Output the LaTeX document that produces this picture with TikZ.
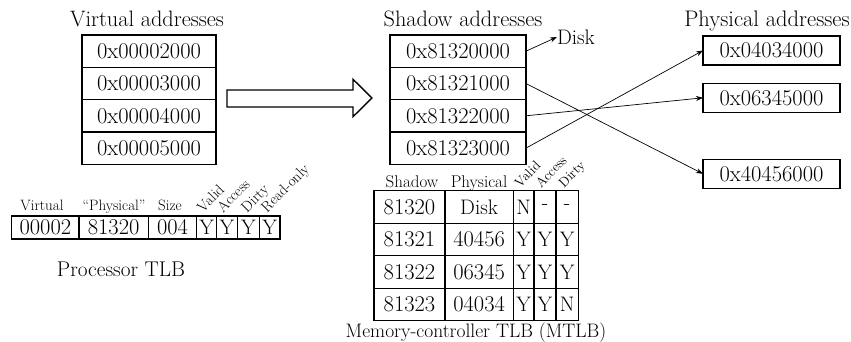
\documentclass[tikz,border=0pt]{standalone}
\usetikzlibrary{arrows.meta}
\begin{document}
\begin{tikzpicture}[x=1pt,y=-1pt,
  every node/.style={inner sep=0pt, outer sep=0pt},
  fs/.style={font=\fontsize{#1}{#1}\selectfont},
  numfont/.style={fs=22.5},
  addr/.style={draw, line width=1.4pt, numfont, minimum width=134pt, minimum height=32.3pt},
  phys/.style={addr, minimum width=137pt, minimum height=29pt},
  tcell/.style={draw, line width=1.4pt, numfont, minimum height=23pt},
  mcell/.style={draw, line width=1.4pt, numfont, minimum height=32.5pt},
  flag/.style={fs=15, rotate=45, anchor=base west},
  mflag/.style={fs=13.5, rotate=45, anchor=base west},
  link/.style={line width=0.7pt, -{Stealth[length=7pt,width=5pt]}}
]
\useasboundingbox (0,0) rectangle (851,342);

% column titles
\node[fs=22.3, anchor=base] (tv) at (147,26.7) {Virtual addresses};
\node[fs=22.3, anchor=base] (ts) at (463,26.7) {Shadow addresses};
\node[fs=22.5, anchor=base] (tp) at (767,26.7) {Physical addresses};

% virtual pages
\node[addr] (v1) at (149,51.2)  {0x00002000};
\node[addr] (v2) at (149,83.5)  {0x00003000};
\node[addr] (v3) at (149,115.8) {0x00004000};
\node[addr] (v4) at (149,148.1) {0x00005000};

% shadow pages
\node[addr, minimum width=136pt] (s1) at (458,51.2)  {0x81320000};
\node[addr, minimum width=136pt] (s2) at (458,83.5)  {0x81321000};
\node[addr, minimum width=136pt] (s3) at (458,115.8) {0x81322000};
\node[addr, minimum width=136pt] (s4) at (458,148.1) {0x81323000};

% physical pages
\node[phys] (p1) at (771.5,50.5)  {0x04034000};
\node[phys] (p2) at (771.5,97.8)  {0x06345000};
\node[phys] (p3) at (771.5,173.8) {0x40456000};

\node[fs=21, anchor=west] (disk) at (557,37) {Disk};

% hollow block arrow between the two address spaces
\draw[line width=1.4pt, line join=miter]
  (227,90) -- (353,90) -- (353,79.3) -- (372,98) -- (353,116.7)
  -- (353,107) -- (227,107) -- cycle;

% shadow-to-physical mappings
\draw[link] (s1.east) -- (disk.west);
\draw[link] (s2.east) -- (p3.west);
\draw[link] (s3.east) -- (p2.west);
\draw[link] (s4.east) -- (p1.west);

% processor TLB
\node[fs=15, anchor=base] (hv) at (42,210) {Virtual};
\node[fs=15, anchor=base] (hp) at (114,210) {``Physical''};
\node[fs=15, anchor=base] (hs) at (170,210) {Size};
\node[tcell, minimum width=67.3pt] (t1) at (45.35,227.5) {00002};
\node[tcell, minimum width=69.3pt] (t2) at (113.65,227.5) {81320};
\node[tcell, minimum width=48.4pt] (t3) at (172.5,227.5) {004};
\node[tcell, fs=21, minimum width=20pt]   (t4) at (206.7,227.5) {Y};
\node[tcell, fs=21, minimum width=20.6pt] (t5) at (227,227.5) {Y};
\node[tcell, fs=21, minimum width=22pt]   (t6) at (248.3,227.5) {Y};
\node[tcell, fs=21, minimum width=20.7pt] (t7) at (269.65,227.5) {Y};
\node[flag] (fv) at (203,213) {Valid};
\node[flag] (fa) at (223,213) {Access};
\node[flag] (fd) at (247,213) {Dirty};
\node[flag] (fr) at (267,213) {Read-only};
\node[fs=21.3, anchor=base] (ctlb) at (121,276) {Processor TLB};

% memory-controller TLB
\node[fs=17, anchor=base] (ms) at (412,187) {Shadow};
\node[fs=17, anchor=base] (mp) at (479,187) {Physical};
\node[mflag] (mv) at (520,188) {Valid};
\node[mflag] (ma) at (541,188) {Access};
\node[mflag] (md) at (564,188) {Dirty};

\node[mcell, minimum width=71pt]   (a1) at (409.5,207) {81320};
\node[mcell, fs=21, minimum width=68.3pt] (b1) at (479.15,207) {Disk};
\node[mcell, fs=21, minimum width=20.7pt] (c1) at (523.65,207) {N};
\node[mcell, fs=21, minimum width=22pt]   (d1) at (545,207) {-};
\node[mcell, fs=21, minimum width=22.3pt] (e1) at (567.15,207) {-};

\node[mcell, minimum width=71pt]   (a2) at (409.5,239.5) {81321};
\node[mcell, minimum width=68.3pt] (b2) at (479.15,239.5) {40456};
\node[mcell, fs=21, minimum width=20.7pt] (c2) at (523.65,239.5) {Y};
\node[mcell, fs=21, minimum width=22pt]   (d2) at (545,239.5) {Y};
\node[mcell, fs=21, minimum width=22.3pt] (e2) at (567.15,239.5) {Y};

\node[mcell, minimum width=71pt]   (a3) at (409.5,272) {81322};
\node[mcell, minimum width=68.3pt] (b3) at (479.15,272) {06345};
\node[mcell, fs=21, minimum width=20.7pt] (c3) at (523.65,272) {Y};
\node[mcell, fs=21, minimum width=22pt]   (d3) at (545,272) {Y};
\node[mcell, fs=21, minimum width=22.3pt] (e3) at (567.15,272) {Y};

\node[mcell, minimum width=71pt]   (a4) at (409.5,304.5) {81323};
\node[mcell, minimum width=68.3pt] (b4) at (479.15,304.5) {04034};
\node[mcell, fs=21, minimum width=20.7pt] (c4) at (523.65,304.5) {Y};
\node[mcell, fs=21, minimum width=22pt]   (d4) at (545,304.5) {Y};
\node[mcell, fs=21, minimum width=22.3pt] (e4) at (567.15,304.5) {N};

\node[fs=19.5, anchor=base] (cm) at (476,337) {Memory-controller TLB (MTLB)};
\end{tikzpicture}
\end{document}
